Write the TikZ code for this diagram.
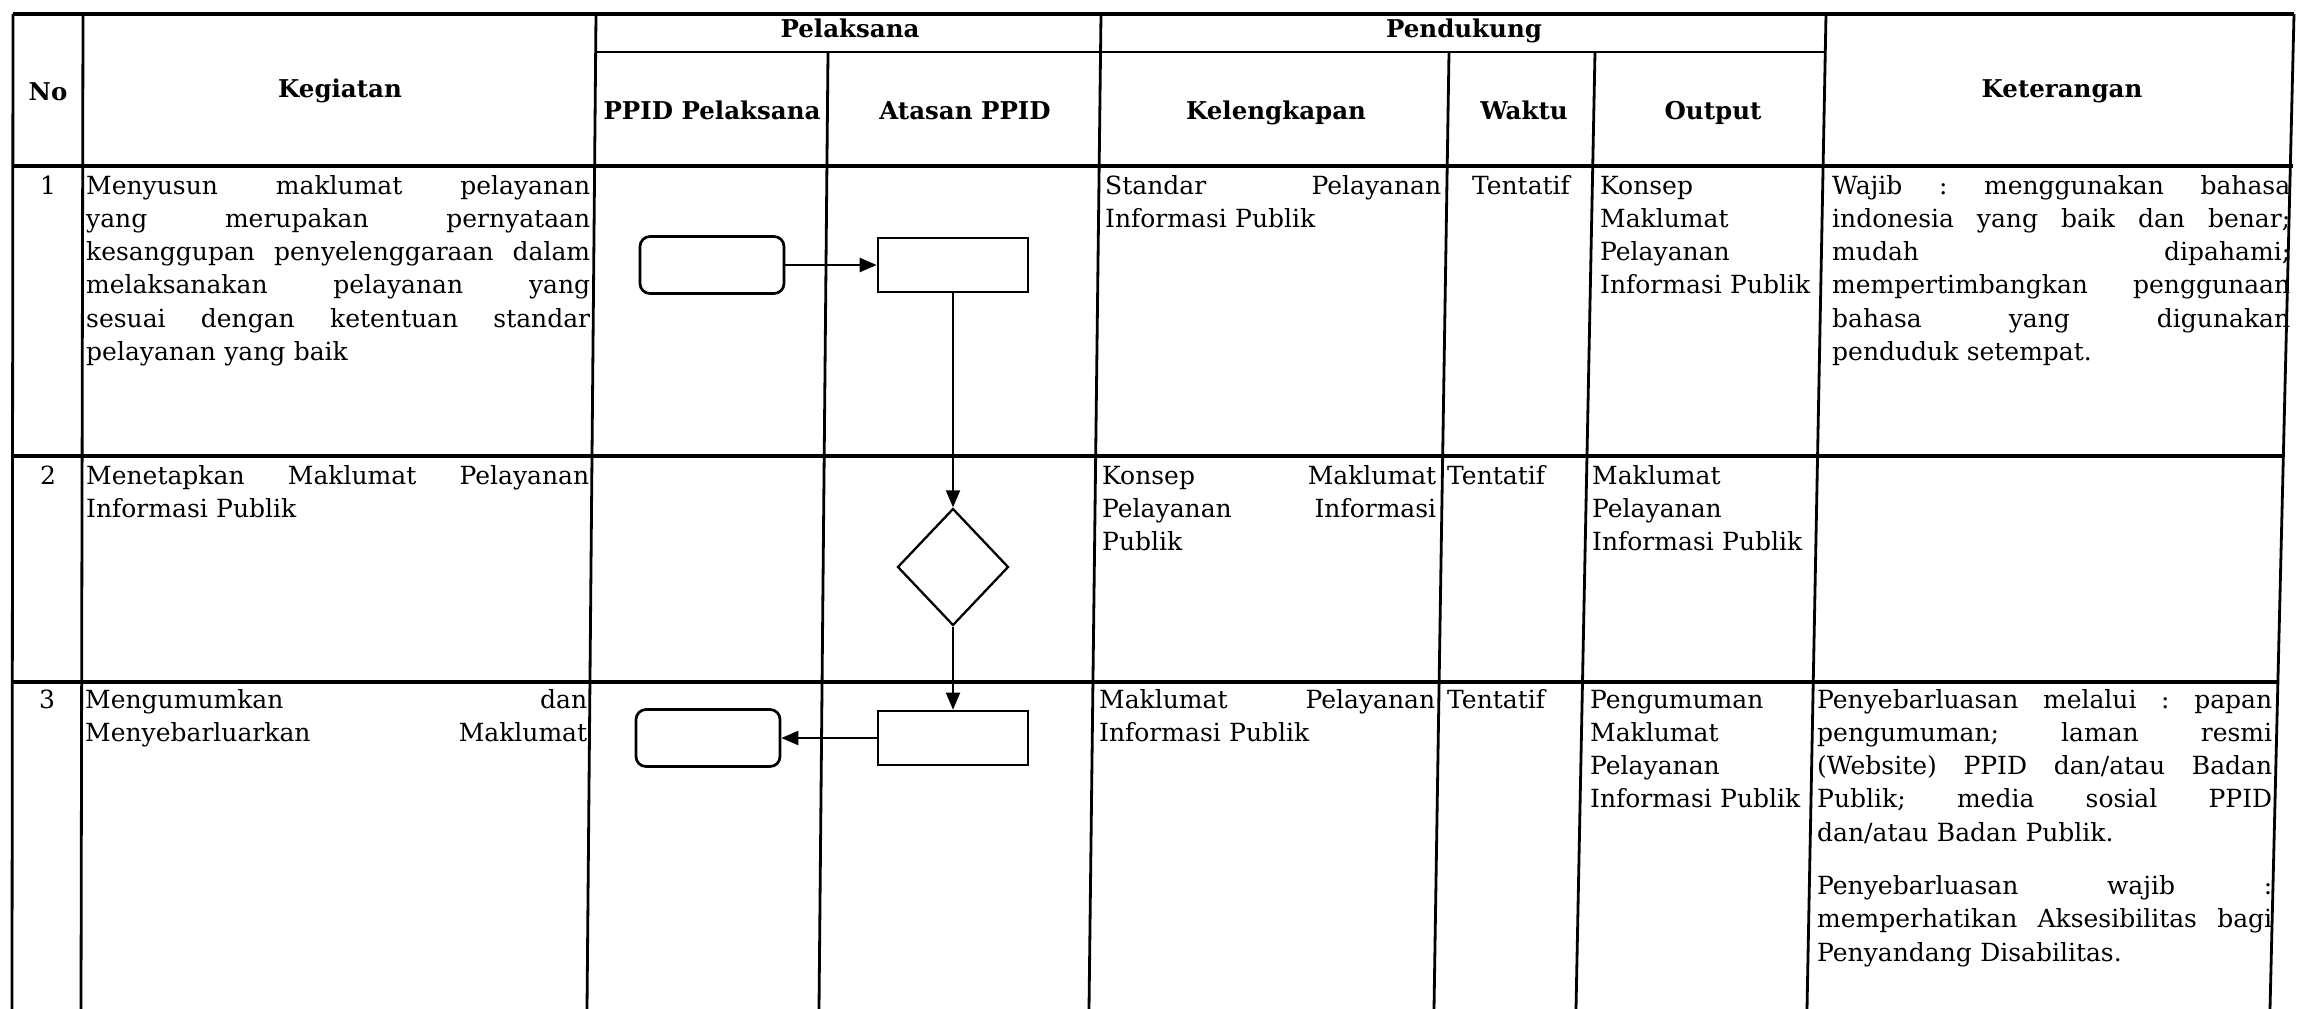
\documentclass[tikz,border=0pt]{standalone}
\usepackage{fontspec}
\setmainfont{DejaVu Serif}
\usetikzlibrary{shapes.geometric,arrows.meta}

\newlength{\lebar}
\newcommand{\rata}[1]{\makebox[\lebar][s]{\frenchspacing\spaceskip=.3em plus 1fil\relax #1}}
\newcommand{\isifont}{\fontsize{25}{33.3}\selectfont}
\newcommand{\judulfont}{\fontsize{24.5}{28}\selectfont\bfseries}

\begin{document}
\begin{tikzpicture}[x=1pt, y=-1pt,
    garis/.style={line width=2.8pt},
    garis tebal/.style={line width=3.8pt},
    judul/.style={anchor=base, font=\judulfont, inner sep=0pt},
    isi/.style={anchor=base west, inner sep=0pt, text width=#1, font=\isifont,
        execute at begin node={\setlength{\lebar}{#1}}},
    nomor/.style={anchor=base, inner sep=0pt, font=\isifont},
    terminal/.style={draw, line width=2.7pt, rounded corners=10pt, minimum width=144pt, minimum height=57pt, inner sep=0pt},
    proses/.style={draw, line width=2.7pt, minimum width=150pt, minimum height=54pt, inner sep=0pt},
    keputusan/.style={draw, diamond, line width=2.3pt, minimum width=111pt, minimum height=117pt, inner sep=0pt},
    panah/.style={line width=2pt, -{Triangle[length=17pt,width=14pt]}},
    panah tebal/.style={panah, line width=2.4pt}]

    \useasboundingbox (0,0) rectangle (2302,1009);

    % Garis tabel
    \foreach \xa/\xb in {13/12, 83/81, 596/587, 1101/1089, 1826/1807, 2294/2270}
        \draw[garis] (\xa,14) -- (\xb,1009);
    \foreach \xa/\xb in {828/819, 1449/1434, 1595/1576}
        \draw[garis] (\xa,52) -- (\xb,1009);

    \draw[garis tebal] (13,14) -- (2294,14);
    \draw[garis] (596,52) -- (1826,52);
    \draw[garis tebal] (13,166) -- (2293,166);
    \draw[garis tebal] (13,456) -- (2283,456);
    \draw[garis tebal] (12,682) -- (2278,682);

    % Kepala tabel
    \node[judul] (hNo) at (48,100) {No};
    \node[judul] (hKeg) at (340,97) {Kegiatan};
    \node[judul] (hPel) at (850,37) {Pelaksana};
    \node[judul] (hPen) at (1464,37) {Pendukung};
    \node[judul] (hPPID) at (712,119) {PPID Pelaksana};
    \node[judul] (hAts) at (965,119) {Atasan PPID};
    \node[judul] (hKel) at (1276,119) {Kelengkapan};
    \node[judul] (hWkt) at (1524,119) {Waktu};
    \node[judul] (hOut) at (1713,119) {Output};
    \node[judul] (hKet) at (2062,97) {Keterangan};

    % Baris 1
    \node[nomor] (no1) at (48,194) {1};
    \node[isi=504pt] (keg1) at (86,194) {\rata{Menyusun maklumat pelayanan}\\
        \rata{yang merupakan pernyataan}\\
        \rata{kesanggupan penyelenggaraan dalam}\\
        \rata{melaksanakan pelayanan yang}\\
        \rata{sesuai dengan ketentuan standar}\\
        pelayanan yang baik};
    \node[isi=336pt] (kel1) at (1105,194) {\rata{Standar Pelayanan}\\ Informasi Publik};
    \node[nomor] (wkt1) at (1521,194) {Tentatif};
    \node[isi=260pt] (out1) at (1600,194) {Konsep\\ Maklumat\\ Pelayanan\\ Informasi Publik};
    \node[isi=458pt] (ket1) at (1832,194) {\rata{Wajib : menggunakan bahasa}\\
        \rata{indonesia yang baik dan benar;}\\
        \rata{mudah dipahami;}\\
        \rata{mempertimbangkan penggunaan}\\
        \rata{bahasa yang digunakan}\\
        penduduk setempat.};

    % Baris 2
    \node[nomor] (no2) at (48,484) {2};
    \node[isi=503pt] (keg2) at (86,484) {\rata{Menetapkan Maklumat Pelayanan}\\ Informasi Publik};
    \node[isi=334pt] (kel2) at (1102,484) {\rata{Konsep Maklumat}\\ \rata{Pelayanan Informasi}\\ Publik};
    \node[nomor, anchor=base west] (wkt2) at (1447,484) {Tentatif};
    \node[isi=260pt] (out2) at (1592,484) {Maklumat\\ Pelayanan\\ Informasi Publik};

    % Baris 3
    \node[nomor] (no3) at (47,708) {3};
    \node[isi=502pt] (keg3) at (85,708) {\rata{Mengumumkan dan}\\ \rata{Menyebarluarkan Maklumat}};
    \node[isi=336pt] (kel3) at (1099,708) {\rata{Maklumat Pelayanan}\\ Informasi Publik};
    \node[nomor, anchor=base west] (wkt3) at (1447,708) {Tentatif};
    \node[isi=260pt] (out3) at (1590,708) {Pengumuman\\ Maklumat\\ Pelayanan\\ Informasi Publik};
    \node[isi=455pt] (ket3) at (1817,708) {\rata{Penyebarluasan melalui : papan}\\
        \rata{pengumuman; laman resmi}\\
        \rata{(Website) PPID dan/atau Badan}\\
        \rata{Publik; media sosial PPID}\\
        dan/atau Badan Publik.\\[20pt]
        \rata{Penyebarluasan wajib :}\\
        \rata{memperhatikan Aksesibilitas bagi}\\
        Penyandang Disabilitas.};

    % Bagan alir
    \node[terminal] (pel1) at (712,265) {};
    \node[proses] (ats1) at (953,265) {};
    \node[keputusan] (ats2) at (953,567) {};
    \node[proses] (ats3) at (953,738) {};
    \node[terminal] (pel3) at (708,738) {};

    \draw[panah tebal] (pel1) -- (ats1);
    \draw[panah] (ats1) -- (ats2);
    \draw[panah] (ats2) -- (ats3);
    \draw[panah tebal] (ats3) -- (pel3);

\end{tikzpicture}
\end{document}
